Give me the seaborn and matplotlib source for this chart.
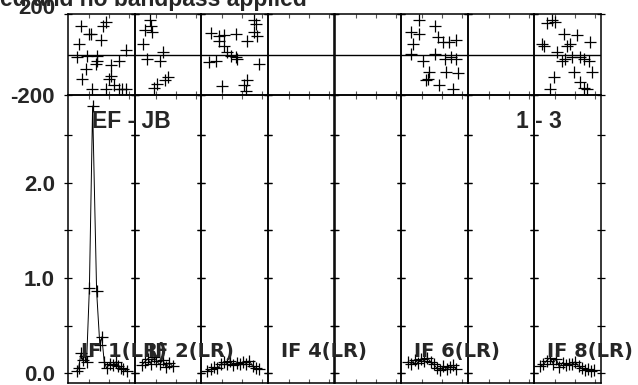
import pandas as pd
import seaborn as sns
import matplotlib.pyplot as plt

sns.set_theme(style='white')
plt.rcParams['font.family'] = ['Liberation Sans', 'DejaVu Sans']
plt.rcParams['font.weight'] = 'bold'

# panels (IFs) and which ones carry a label
n_if = 8
labelled_ifs = [1, 2, 4, 6, 8]

# phase (deg) vs channel, per IF
ph_ch_1 = [2.9, 9.2, 8.6, 5.0, 5.4, 8.1, 2.5, 14.2, 2.1, 4.6, 7.1, 7.1, 6.7, 12.5, 10.4, 4.2, 10.4, 10.0, 3.3, 5.8, 9.2, 11.3, 12.5, 13.3, 14.2]
ph_1 = [143, 160, 143, 102, 99, 73, 53, 20, -13, -5, -5, -30, -46, -30, -54, -71, -104, -120, -120, -169, -169, -153, -169, -169, -169]
ph_ch_2 = [3.5, 3.8, 2.4, 4.1, 1.8, 6.8, 2.8, 6.2, 8.0, 7.4, 5.3, 4.7]
ph_2 = [168, 143, 119, 110, 53, 11, -21, -30, -112, -128, -145, -164]
ph_ch_3 = [12.9, 13.4, 12.9, 13.8, 2.1, 4.2, 5.4, 8.4, 4.2, 11.3, 5.4, 6.3, 7.1, 8.4, 8.8, 1.7, 3.4, 14.2, 5.0, 10.4, 11.3, 10.9]
ph_3 = [168, 152, 110, 89, 105, 89, 94, 99, 69, 69, 44, 11, -5, -13, -21, -38, -30, -46, -158, -153, -128, -178]
ph_ch_6 = [4.3, 8.3, 2.2, 4.3, 2.7, 8.9, 10.2, 11.8, 13.5, 2.2, 5.2, 8.1, 10.6, 12.2, 13.5, 6.8, 6.4, 6.0, 11.0, 13.9, 9.3, 12.8]
ph_6 = [168, 143, 110, 99, 53, 85, 61, 61, 73, 3, -30, 3, -21, -13, -21, -87, -120, -128, -87, -92, -153, -169]
ph_ch_8 = [2.9, 4.2, 5.0, 7.1, 10.4, 13.7, 2.1, 1.7, 7.9, 8.7, 5.4, 6.7, 7.5, 9.2, 11.2, 12.1, 13.3, 9.6, 14.2, 4.6, 11.2, 12.1, 12.9, 3.7]
ph_8 = [155, 168, 160, 99, 94, 61, 44, 53, 44, 53, 11, -30, -21, -13, -13, -21, -30, -87, -87, -112, -137, -164, -169, -169]

# amplitude vs channel, per IF
amp_ch_1 = [1.9, 2.4, 3.0, 3.4, 3.9, 4.4, 5.1, 5.9, 6.9, 7.7, 8.2, 8.8, 9.4, 10.2, 11.1, 11.8, 12.3, 13.0, 13.6, 14.4]
amp_1 = [0.02, 0.05, 0.21, 0.14, 0.18, 0.12, 0.90, 2.81, 0.86, 0.30, 0.38, 0.12, 0.05, 0.10, 0.08, 0.12, 0.07, 0.05, 0.04, 0.02]
amp_ch_2 = [1.5, 2.3, 3.0, 3.8, 4.5, 5.2, 6.0, 6.8, 7.6, 8.4, 9.3]
amp_2 = [0.08, 0.12, 0.15, 0.10, 0.17, 0.13, 0.09, 0.14, 0.06, 0.11, 0.07]
amp_ch_3 = [1.3, 2.2, 3.0, 3.8, 4.6, 5.4, 6.2, 7.0, 7.8, 8.6, 9.4, 10.2, 11.0, 11.8, 12.6, 13.4, 14.2]
amp_3 = [0.02, 0.04, 0.06, 0.05, 0.09, 0.12, 0.10, 0.13, 0.08, 0.11, 0.09, 0.12, 0.10, 0.13, 0.07, 0.05, 0.04]
amp_ch_6 = [1.5, 2.3, 3.1, 3.9, 4.7, 5.5, 6.3, 7.1, 7.9, 8.7, 9.5, 10.3, 11.1, 11.9, 12.7, 13.5]
amp_6 = [0.12, 0.10, 0.14, 0.11, 0.15, 0.13, 0.16, 0.12, 0.09, 0.05, 0.03, 0.07, 0.04, 0.06, 0.08, 0.04]
amp_ch_8 = [1.2, 2.0, 2.8, 3.6, 4.4, 5.2, 6.0, 6.8, 7.6, 8.4, 9.2, 10.0, 10.8, 11.6, 12.4, 13.2, 14.0, 14.6]
amp_8 = [0.07, 0.09, 0.13, 0.16, 0.10, 0.15, 0.06, 0.11, 0.08, 0.10, 0.09, 0.12, 0.07, 0.05, 0.03, 0.04, 0.02, 0.03]

phase_data = {1: (ph_ch_1, ph_1), 2: (ph_ch_2, ph_2), 3: (ph_ch_3, ph_3),
              6: (ph_ch_6, ph_6), 8: (ph_ch_8, ph_8)}
amp_data = {1: (amp_ch_1, amp_1), 2: (amp_ch_2, amp_2), 3: (amp_ch_3, amp_3),
            6: (amp_ch_6, amp_6), 8: (amp_ch_8, amp_8)}

W, H = 638, 385
fig = plt.figure(figsize=(W / 100, H / 100), dpi=100)

x0, pw = 68, 66.625
ph_top, split, amp_bot = 14, 95, 383

for i in range(n_if):
    ifn = i + 1
    left = (x0 + i * pw) / W
    axp = fig.add_axes([left, 1 - split / H, pw / W, (split - ph_top) / H])
    axa = fig.add_axes([left, 1 - amp_bot / H, pw / W, (amp_bot - split) / H])

    if ifn in phase_data:
        ch, ph = phase_data[ifn]
        sns.scatterplot(x=ch, y=ph, ax=axp, marker='+', s=70, color='black', linewidth=0.9, zorder=3)
    if ifn in amp_data:
        ch, am = amp_data[ifn]
        df = pd.DataFrame({'ch': ch, 'amp': am})
        sns.lineplot(data=df, x='ch', y='amp', ax=axa, color='black', lw=0.7,
                     marker='+', markersize=9, markeredgewidth=0.9, markeredgecolor='black',
                     estimator=None, zorder=3)

    axp.axhline(0, color='black', lw=1)
    for ax in (axp, axa):
        ax.set_facecolor('none')
        ax.set_xlim(-0.25, 16.4)
        ax.set_xticks([5, 10, 15])
        ax.set_xticklabels([])
        ax.set_xlabel('')
        ax.set_ylabel('')
        ax.tick_params(axis='x', direction='in', length=3, width=0.8, top=True, bottom=True, color='#555555')
        ax.tick_params(axis='y', direction='inout', length=6, width=0.9, left=True, right=True,
                       labelsize=16, pad=6.4, color='black')
        for sp in ax.spines.values():
            sp.set_color('black')
            sp.set_linewidth(1.1)

    axp.set_ylim(-200, 200)
    axp.set_yticks([-200, 200])
    axa.set_ylim(-0.105, 2.926)
    axa.set_yticks([0, 0.5, 1.0, 1.5, 2.0, 2.5])
    if i == 0:
        axp.set_yticklabels(['-200', '200'])
        axp.get_yticklabels()[1].set_verticalalignment('baseline')
        axa.set_yticklabels(['0.0', '', '1.0', '', '2.0', ''])
    else:
        axp.set_yticklabels([])
        axa.set_yticklabels([])

    if ifn in labelled_ifs:
        fig.text((x0 + i * pw + 13) / W, 1 - 352 / H, 'IF {}(LR)'.format(ifn),
                 ha='left', va='center', fontsize=14, fontweight='bold',
                 family=['DejaVu Sans'], zorder=5)

fig.text(92 / W, 1 - 121 / H, 'EF - JB', ha='left', va='center', fontsize=16.5, fontweight='bold')
fig.text(516 / W, 1 - 121 / H, '1 - 3', ha='left', va='center', fontsize=16.5, fontweight='bold')
fig.text(0, 1 - 6 / H, 'ed and no bandpass applied', ha='left', va='baseline',
         fontsize=16.5, fontweight='bold')

plt.savefig('out.png', dpi=100)
